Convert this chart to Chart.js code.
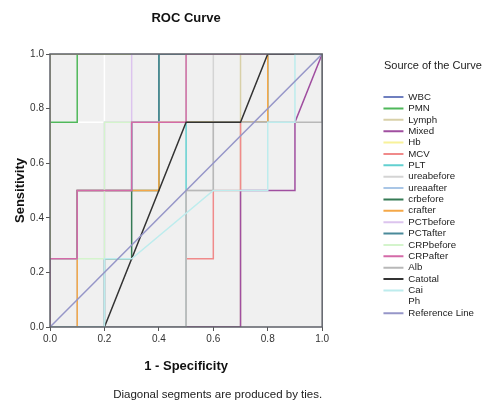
<!DOCTYPE html>
<html>
<head>
<meta charset="utf-8">
<title>ROC Curve</title>
<script src="https://cdn.jsdelivr.net/npm/chart.js@4.4.1/dist/chart.umd.min.js"></script>
<style>
  html, body { margin: 0; padding: 0; background: #fff; }
  #wrap { position: relative; width: 482px; height: 405px; }
</style>
</head>
<body>
<div id="wrap"><canvas id="roc"></canvas></div>
<script>
// legend entries, in legend order
const curveNames = ["WBC", "PMN", "Lymph", "Mixed", "Hb", "MCV", "PLT", "ureabefore",
  "ureaafter", "crbefore", "crafter", "PCTbefore", "PCTafter", "CRPbefore", "CRPafter",
  "Alb", "Catotal", "Cai", "Ph", "Reference Line"];

// ROC points: [1 - specificity, sensitivity]
const WBC        = [[0, 0], [0, 1], [1, 1]];
const PMN        = [[0, 0], [0, 0.75], [0.1, 0.75], [0.1, 1], [1, 1]];
const Lymph      = [[0, 0], [0.7, 0], [0.7, 1], [1, 1]];
const Mixed      = [[0, 0], [0.7, 0], [0.7, 0.5], [0.9, 0.5], [0.9, 0.75], [1, 1]];
const Hb         = [[0, 0], [0, 1], [1, 1]];
const MCV        = [[0, 0], [0.5, 0], [0.5, 0.25], [0.6, 0.25], [0.6, 0.5], [0.7, 0.5], [0.7, 0.75], [0.8, 0.75], [0.8, 1], [1, 1]];
const PLT        = [[0, 0], [0.5, 0], [0.5, 0.75], [0.8, 0.75], [0.8, 1], [1, 1]];
const ureabefore = [[0, 0], [0.5, 0], [0.5, 0.5], [0.6, 0.5], [0.6, 1], [1, 1]];
const ureaafter  = [[0, 0], [0.1, 0], [0.1, 0.5], [0.3, 0.5], [0.3, 0.75], [0.5, 0.75], [0.5, 1], [1, 1]];
const crbefore   = [[0, 0], [0.2, 0], [0.2, 0.25], [0.3, 0.25], [0.3, 0.5], [0.4, 0.5], [0.4, 1], [1, 1]];
const crafter    = [[0, 0], [0.1, 0], [0.1, 0.5], [0.4, 0.5], [0.4, 0.75], [0.8, 0.75], [0.8, 1], [1, 1]];
const PCTbefore  = [[0, 0], [0.2, 0], [0.2, 0.75], [0.3, 0.75], [0.3, 1], [1, 1]];
const PCTafter   = [[0, 0], [0, 0.25], [0.1, 0.25], [0.1, 0.5], [0.3, 0.5], [0.3, 0.75], [0.4, 0.75], [0.4, 1], [1, 1]];
const CRPbefore  = [[0, 0], [0, 0.25], [0.2, 0.25], [0.2, 0.75], [0.5, 0.75], [0.5, 1], [1, 1]];
const CRPafter   = [[0, 0], [0, 0.25], [0.1, 0.25], [0.1, 0.5], [0.3, 0.5], [0.3, 0.75], [0.5, 0.75], [0.5, 1], [1, 1]];
const Alb        = [[0, 0], [0.5, 0], [0.5, 0.5], [0.6, 0.5], [0.6, 0.75], [1, 0.75], [1, 1]];
const Catotal    = [[0, 0], [0.2, 0], [0.5, 0.75], [0.7, 0.75], [0.8, 1], [1, 1]];
const Cai        = [[0, 0], [0.2, 0], [0.2, 0.25], [0.3, 0.25], [0.6, 0.5], [0.8, 0.5], [0.8, 0.75], [0.9, 0.75], [0.9, 1], [1, 1]];
const Ph         = [[0, 0], [0, 0.75], [0.2, 0.75], [0.2, 1], [1, 1]];
const RefLine    = [[0, 0], [1, 1]];

const axisTicks = [0, 0.2, 0.4, 0.6, 0.8, 1.0];

const curvePoints = [WBC, PMN, Lymph, Mixed, Hb, MCV, PLT, ureabefore, ureaafter, crbefore,
  crafter, PCTbefore, PCTafter, CRPbefore, CRPafter, Alb, Catotal, Cai, Ph, RefLine];

const curveColors = ["#6f7fbf", "#4fb85a", "#d8d0a8", "#a04fa0", "#f8f29a", "#f08a8a", "#62d0d0",
  "#d4d4d4", "#a9c6e6", "#357a55", "#f5a848", "#dcc4ee", "#4a8a9a", "#d4f4cc", "#d46aa8",
  "#b8b8b8", "#333333", "#bdeced", "#ffffff", "#9696c8"];

const FONT = "'Liberation Sans', Arial, sans-serif";

// later curves sit on top, Ph goes just above WBC
function layer(i) {
  if (curveNames[i] === "Ph") return -0.5;
  return -i;
}

const datasets = curveNames.map((name, i) => ({
  label: name,
  data: curvePoints[i].map(p => ({ x: p[0], y: p[1] })),
  borderColor: curveColors[i],
  backgroundColor: curveColors[i],
  borderWidth: 1.5,
  showLine: true,
  pointRadius: 0,
  pointHoverRadius: 0,
  fill: false,
  order: layer(i)
}));

// grey plot background and box around it
const plotFrame = {
  id: "plotFrame",
  beforeDatasetsDraw(chart) {
    const a = chart.chartArea, ctx = chart.ctx;
    ctx.save();
    ctx.fillStyle = "#f0f0f0";
    ctx.fillRect(a.left, a.top, a.right - a.left, a.bottom - a.top);
    ctx.restore();
  },
  afterDatasetsDraw(chart) {
    const a = chart.chartArea, ctx = chart.ctx;
    ctx.save();
    ctx.strokeStyle = "#5e6068";
    ctx.lineWidth = 1.5;
    ctx.strokeRect(a.left, a.top, a.right - a.left, a.bottom - a.top);
    ctx.restore();
  }
};

const tickStyle = {
  min: 0,
  max: 1,
  afterBuildTicks: s => { s.ticks = axisTicks.map(v => ({ value: v })); },
};

const chart = new Chart(document.getElementById("roc"), {
  type: "scatter",
  data: { datasets: datasets },
  options: {
    responsive: true,
    maintainAspectRatio: false,
    animation: false,
    events: [],
    layout: { padding: { left: 0, top: 0, bottom: 0, right: -2 } },
    scales: {
      x: {
        type: "linear",
        position: "bottom",
        ...tickStyle,
        grid: { display: true, drawOnChartArea: false, drawTicks: true, tickLength: 4, color: "#555" },
        border: { display: false },
        ticks: { font: { family: FONT, size: 10 }, color: "#333", padding: 2, maxRotation: 0,
          callback: v => v.toFixed(1) },
        title: { display: true, text: "1 - Specificity", color: "#111",
          font: { family: FONT, size: 13, weight: "bold" }, padding: { top: 0, bottom: 14.3 } },
        afterFit: s => { s.height = 61.1; }
      },
      y: {
        type: "linear",
        position: "left",
        ...tickStyle,
        grid: { display: true, drawOnChartArea: false, drawTicks: true, tickLength: 4, color: "#555" },
        border: { display: false },
        ticks: { font: { family: FONT, size: 10 }, color: "#333", padding: 2,
          callback: v => v.toFixed(1) },
        title: { display: true, text: "Sensitivity", color: "#111",
          font: { family: FONT, size: 13, weight: "bold" }, padding: { top: 12.2, bottom: 0 } },
        afterFit: s => { s.width = 50; }
      },
      // empty axis that keeps the space between the plot and the legend
      gap: {
        type: "linear",
        position: "right",
        display: true,
        grid: { display: false },
        border: { display: false },
        ticks: { display: false },
        afterFit: s => { s.width = 59.6; }
      }
    },
    plugins: {
      tooltip: { enabled: false },
      title: {
        display: true,
        text: "ROC Curve",
        fullSize: false,
        color: "#111",
        font: { family: FONT, size: 13, weight: "bold" },
        padding: { top: 10.2, bottom: 28.2 }
      },
      subtitle: {
        display: true,
        text: "Diagonal segments are produced by ties.",
        position: "bottom",
        fullSize: false,
        align: "end",
        color: "#222",
        font: { family: FONT, size: 11.5 },
        padding: { top: 0, bottom: 3.1 }
      },
      legend: {
        position: "right",
        align: "start",
        maxWidth: 200,
        title: {
          display: true,
          text: "Source of the Curve",
          position: "center",
          color: "#222",
          font: { family: FONT, size: 11 },
          padding: { top: 60.5, bottom: 16.9 }
        },
        labels: {
          boxWidth: 20,
          boxHeight: 2,
          padding: 1.67,
          color: "#222",
          font: { family: FONT, size: 9.7 },
          sort: (a, b) => a.datasetIndex - b.datasetIndex,
          generateLabels: c => {
            const items = Chart.defaults.plugins.legend.labels.generateLabels(c);
            items.forEach(it => { it.lineWidth = 0; it.fillStyle = it.strokeStyle; });
            return items;
          }
        }
      }
    }
  },
  plugins: [plotFrame]
});
</script>
</body>
</html>
